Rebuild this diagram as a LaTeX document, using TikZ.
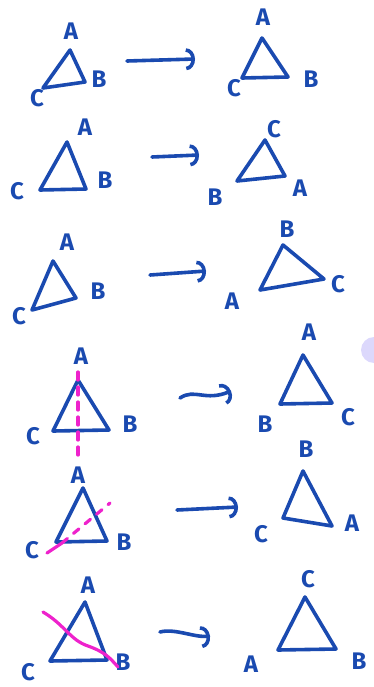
\documentclass[tikz,border=0pt]{standalone}
\usepackage{fontspec}
\setsansfont{Fira Sans}
\usetikzlibrary{arrows.meta}
\definecolor{inkblue}{HTML}{1A4AB0}
\definecolor{inkpink}{HTML}{EE22CC}
\definecolor{lavender}{HTML}{DCD8FC}
\tikzset{
  every picture/.style={line cap=round, line join=round},
  pen/.style={draw=inkblue, line width=3.6pt},
  lbl/.style={text=inkblue, font=\sffamily\bfseries\fontsize{24}{24}\selectfont, inner sep=0pt},
  axis/.style={draw=inkpink, line width=3.2pt},
  maparrow/.style={pen, -{Arc Barb[length=9pt, width=22pt]}},
}

\begin{document}
\begin{tikzpicture}[x=1pt, y=-1pt]
  \useasboundingbox (0,0) rectangle (374,687);
  \fill[lavender] (374,350) circle (13pt);

  % row 1: identity
  \coordinate (L1-t) at (70,50); \coordinate (L1-l) at (43,88); \coordinate (L1-r) at (85,82);
  \node[lbl] (L1A) at (71,31) {A}; \node[lbl] (L1B) at (99,79) {B}; \node[lbl] (L1C) at (37,98) {C};
  \coordinate (R1-t) at (262,38); \coordinate (R1-l) at (242,78); \coordinate (R1-r) at (288,77);
  \node[lbl] (R1A) at (263,17) {A}; \node[lbl] (R1B) at (311,79) {B}; \node[lbl] (R1C) at (234,88) {C};
  \coordinate (a1s) at (127,61); \coordinate (a1e) at (195,59);

  % row 2
  \coordinate (L2-t) at (67,142); \coordinate (L2-l) at (40,190); \coordinate (L2-r) at (86,189);
  \node[lbl] (L2A) at (85,127) {A}; \node[lbl] (L2B) at (105,180) {B}; \node[lbl] (L2C) at (17,191) {C};
  \coordinate (R2-t) at (265,140); \coordinate (R2-l) at (237,181); \coordinate (R2-r) at (285,176);
  \node[lbl] (R2C) at (274,129) {C}; \node[lbl] (R2B) at (215,197) {B}; \node[lbl] (R2A) at (300,188) {A};
  \coordinate (a2s) at (152,157); \coordinate (a2e) at (199,155);

  % row 3
  \coordinate (L3-t) at (53,261); \coordinate (L3-l) at (32,310); \coordinate (L3-r) at (76,298);
  \node[lbl] (L3A) at (67,242) {A}; \node[lbl] (L3B) at (98,291) {B}; \node[lbl] (L3C) at (19,316) {C};
  \coordinate (R3-t) at (283,245); \coordinate (R3-l) at (260,290); \coordinate (R3-r) at (324,279);
  \node[lbl] (R3B) at (287,229) {B}; \node[lbl] (R3C) at (338,284) {C}; \node[lbl] (R3A) at (232,301) {A};
  \coordinate (a3s) at (150,275); \coordinate (a3e) at (206,271);

  % row 4: flip through A
  \coordinate (L4-t) at (78,380); \coordinate (L4-l) at (53,431); \coordinate (L4-r) at (109,430);
  \node[lbl] (L4A) at (81,356) {A}; \node[lbl] (L4B) at (130,424) {B}; \node[lbl] (L4C) at (33,436) {C};
  \coordinate (R4-t) at (303,355); \coordinate (R4-l) at (280,404); \coordinate (R4-r) at (332,403);
  \node[lbl] (R4A) at (309,332) {A}; \node[lbl] (R4B) at (265,424) {B}; \node[lbl] (R4C) at (348,417) {C};
  \coordinate (a4s) at (180,398); \coordinate (a4e) at (231,391);
  \coordinate (f4s) at (78,372); \coordinate (f4e) at (78,455);

  % row 5: flip through C
  \coordinate (L5-t) at (83,488); \coordinate (L5-l) at (56,542); \coordinate (L5-r) at (107,541);
  \node[lbl] (L5A) at (78,475) {A}; \node[lbl] (L5B) at (124,542) {B}; \node[lbl] (L5C) at (32,550) {C};
  \coordinate (R5-t) at (303,471); \coordinate (R5-l) at (283,518); \coordinate (R5-r) at (332,526);
  \node[lbl] (R5B) at (306,449) {B}; \node[lbl] (R5C) at (261,534) {C}; \node[lbl] (R5A) at (352,523) {A};
  \coordinate (a5s) at (177,510); \coordinate (a5e) at (238,507);
  \coordinate (f5s) at (47,553); \coordinate (f5m) at (62,543); \coordinate (f5e) at (110,503);

  % row 6: flip through B
  \coordinate (L6-t) at (85,602); \coordinate (L6-l) at (50,661); \coordinate (L6-r) at (107,660);
  \node[lbl] (L6A) at (88,585) {A}; \node[lbl] (L6B) at (123,662) {B}; \node[lbl] (L6C) at (28,672) {C};
  \coordinate (R6-t) at (305,597); \coordinate (R6-l) at (278,650); \coordinate (R6-r) at (336,649);
  \node[lbl] (R6C) at (308,579) {C}; \node[lbl] (R6A) at (251,664) {A}; \node[lbl] (R6B) at (359,661) {B};
  \coordinate (a6s) at (160,632); \coordinate (a6e) at (210,636);
  \coordinate (f6s) at (43,612); \coordinate (f6e) at (118,667);

  \foreach \t in {L1,R1,L2,R2,L3,R3,L4,R4,L5,R5,L6,R6}
    \draw[pen] (\t-t) -- (\t-l) -- (\t-r) -- cycle;

  \foreach \n in {1,2,3,5} \draw[maparrow] (a\n s) -- (a\n e);
  \draw[maparrow] (a4s) .. controls (195,388) and (205,402) .. (a4e);
  \draw[maparrow] (a6s) .. controls (175,628) and (195,638) .. (a6e);

  % mirror lines
  \draw[axis, dash pattern=on 8pt off 7pt] (f4s) -- (f4e);
  \draw[axis] (f5s) -- (f5m);
  \draw[axis, dash pattern=on 7pt off 8pt] (f5m) -- (f5e);
  \draw[axis] (f6s) .. controls (65,625) and (70,640) .. (88,646) .. controls (105,652) and (110,658) .. (f6e);
\end{tikzpicture}
\end{document}
